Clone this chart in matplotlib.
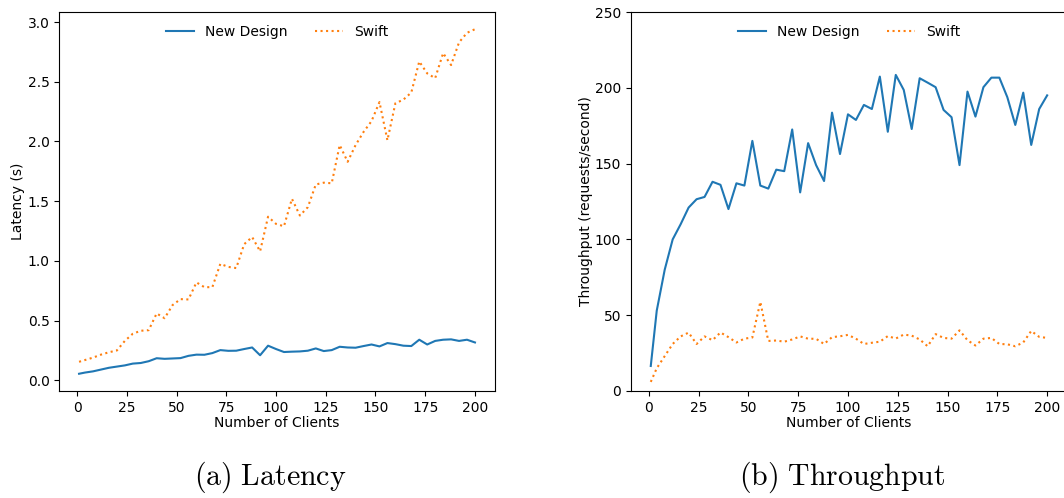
import numpy as np
import matplotlib
matplotlib.use('Agg')
import matplotlib.pyplot as plt

# number of clients
clients = [1] + list(range(4, 201, 4))

lat_new = [0.055, 0.065, 0.075, 0.09, 0.105, 0.115, 0.125, 0.14, 0.145, 0.16,
           0.185, 0.18, 0.183, 0.186, 0.205, 0.215, 0.214, 0.228, 0.253, 0.247,
           0.248, 0.262, 0.275, 0.21, 0.29, 0.262, 0.237, 0.24, 0.242, 0.248,
           0.267, 0.245, 0.253, 0.281, 0.275, 0.273, 0.287, 0.30, 0.284, 0.312,
           0.303, 0.29, 0.287, 0.34, 0.30, 0.33, 0.34, 0.343, 0.33, 0.34, 0.317]
lat_swift = [0.155, 0.17, 0.19, 0.215, 0.235, 0.25, 0.33, 0.39, 0.415, 0.42,
             0.56, 0.52, 0.63, 0.68, 0.677, 0.82, 0.78, 0.78, 0.975, 0.95,
             0.94, 1.14, 1.20, 1.08, 1.37, 1.31, 1.29, 1.52, 1.38, 1.45,
             1.64, 1.655, 1.65, 1.97, 1.83, 1.97, 2.08, 2.17, 2.33, 2.01,
             2.32, 2.35, 2.41, 2.67, 2.57, 2.53, 2.74, 2.64, 2.83, 2.91, 2.94]

thr_new = [16.5, 53, 80, 100, 110, 121, 126.5, 128, 138, 136,
           120, 137, 135.5, 165, 135.5, 133.5, 146, 145, 172.5, 131,
           163.5, 149, 138.5, 183.6, 156.3, 182.5, 178.8, 188.7, 186, 207.4,
           171, 208.5, 198.6, 172.8, 206.3, 203.4, 200.4, 185.4, 180.6, 149,
           197.5, 181, 200.4, 206.7, 206.7, 193.8, 175.5, 196.8, 162.3, 186, 195]
thr_swift = [6, 15, 23, 31, 36, 38.5, 31, 36, 33.5, 38.6,
             35.5, 32, 34.5, 35.3, 58.8, 33, 33.3, 32.5, 34, 36,
             34.5, 34.4, 31, 35.5, 36.1, 37, 34.5, 31, 31.8, 32.5,
             36.2, 34.6, 37.2, 36.5, 34, 29.5, 37.5, 35, 34.5, 40,
             33.5, 30, 34.5, 35, 31, 30.8, 29.5, 32, 39.6, 35.7, 35]

plt.rcParams['mathtext.fontset'] = 'cm'

fig = plt.figure(figsize=(10.64, 4.98), dpi=100)
ax1 = fig.add_axes([0.0557, 0.2149, 0.4093, 0.761])
ax2 = fig.add_axes([0.5930, 0.2149, 0.4098, 0.761])

ax1.plot(clients, lat_new, label='New Design')
ax1.plot(clients, lat_swift, ':', label='Swift')
ax1.set_xlabel('Number of Clients', labelpad=1)
ax1.set_ylabel('Latency (s)', labelpad=2)
ax1.legend(loc='upper center', ncol=2, frameon=False)

ax2.plot(clients, thr_new, label='New Design')
ax2.plot(clients, thr_swift, ':', label='Swift')
ax2.set_ylim(0, 250)
ax2.set_xlabel('Number of Clients', labelpad=1)
ax2.set_ylabel('Throughput (requests/second)', labelpad=1)
ax2.legend(loc='upper center', ncol=2, frameon=False)

fig.text(270 / 1064, 21 / 498, r'$\mathrm{(a)\ Latency}$', ha='center', va='center', fontsize=21.5)
fig.text(842 / 1064, 21 / 498, r'$\mathrm{(b)\ Throughput}$', ha='center', va='center', fontsize=21.5)

fig.savefig('out.png', dpi=100)
